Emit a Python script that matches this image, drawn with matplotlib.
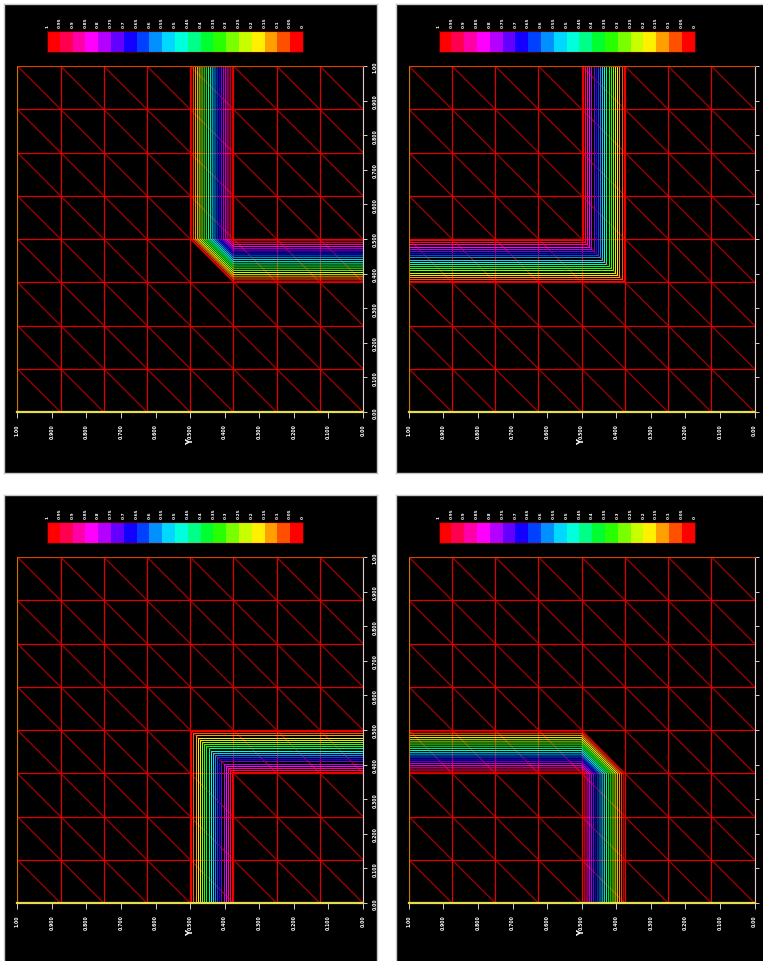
import numpy as np
import matplotlib
matplotlib.use("Agg")
import matplotlib.pyplot as plt
import matplotlib.tri as mtri
from matplotlib.colors import ListedColormap, BoundaryNorm
from matplotlib.cm import ScalarMappable
from matplotlib.collections import LineCollection

W, H = 763, 962

# mesh nodes: horizontal axis is Y (drawn 1 -> 0), vertical axis is X
y_nodes = [0.0, 0.125, 0.25, 0.375, 0.5, 0.625, 0.75, 0.875, 1.0]
x_nodes = [0.0, 0.125, 0.25, 0.375, 0.5, 0.625, 0.75, 0.875, 1.0]

# block of nodes where the field is 1 (0 elsewhere), one per panel
hot_tl = {"y": (0.0, 0.375), "x": (0.5, 1.0)}
hot_tr = {"y": (0.5, 1.0), "x": (0.5, 1.0)}
hot_bl = {"y": (0.0, 0.375), "x": (0.0, 0.375)}
hot_br = {"y": (0.5, 1.0), "x": (0.0, 0.375)}

contour_levels = [0.025, 0.075, 0.125, 0.175, 0.225, 0.275, 0.325, 0.375, 0.425, 0.475,
                  0.525, 0.575, 0.625, 0.675, 0.725, 0.775, 0.825, 0.875, 0.925, 0.975]
cbar_bounds = [0.0, 0.05, 0.1, 0.15, 0.2, 0.25, 0.3, 0.35, 0.4, 0.45, 0.5,
               0.55, 0.6, 0.65, 0.7, 0.75, 0.8, 0.85, 0.9, 0.95, 1.0]
cbar_labels = ["0", "0.05", "0.1", "0.15", "0.2", "0.25", "0.3", "0.35", "0.4", "0.45", "0.5",
               "0.55", "0.6", "0.65", "0.7", "0.75", "0.8", "0.85", "0.9", "0.95", "1"]
# colour of each band, value 0 -> 1
band_colors = ["#ff0000", "#ff5000", "#ffa000", "#fff000", "#c8ff00", "#78ff00", "#28ff00",
               "#00ff30", "#00ff88", "#00ffdc", "#00d8ff", "#0090ff", "#0040ff", "#1400ff",
               "#6400ff", "#b400ff", "#ff00ff", "#ff00a8", "#ff0050", "#ff0000"]

tick_vals = [0.0, 0.1, 0.2, 0.3, 0.4, 0.5, 0.6, 0.7, 0.8, 0.9, 1.0]
tick_labels = ["0.00", "0.100", "0.200", "0.300", "0.400", "0.500",
               "0.600", "0.700", "0.800", "0.900", "1.00"]

# panel offset (px), field block, whether the right-hand labels are inside the picture
panels = [(0, 0, hot_tl, True), (391.5, 0, hot_tr, False),
          (0, 491, hot_bl, True), (391.5, 491, hot_br, False)]


def frac(x, y, w, h):
    return [x / W, 1 - (y + h) / H, w / W, h / H]


# triangulation of the structured mesh, diagonals from (Y+h, X+h) to (Y, X)
YY, XX = np.meshgrid(y_nodes, x_nodes, indexing="ij")
n = len(x_nodes)
tris = []
for i in range(len(y_nodes) - 1):
    for j in range(n - 1):
        a, b, c, d = i * n + j, i * n + j + 1, (i + 1) * n + j, (i + 1) * n + j + 1
        tris.append([a, d, c])
        tris.append([a, b, d])
triang = mtri.Triangulation(YY.ravel(), XX.ravel(), tris)
px, py = triang.x, triang.y
grid_segs, diag_segs = [], []
for e0, e1 in triang.edges:
    seg = [(px[e0], py[e0]), (px[e1], py[e1])]
    if px[e0] != px[e1] and py[e0] != py[e1]:
        diag_segs.append(seg)
    else:
        grid_segs.append(seg)

cmap = ListedColormap(band_colors)
norm = BoundaryNorm(cbar_bounds, cmap.N)
line_colors = [band_colors[int(lv / 0.05)] for lv in contour_levels]

fig = plt.figure(figsize=(W / 100, H / 100), dpi=100)
fig.patch.set_facecolor("white")
small = dict(family="DejaVu Sans", weight="bold")

for ox, oy, hot, show_right in panels:
    bg = fig.add_axes(frac(ox + 4, oy + 5, 373, 469), zorder=0)
    bg.set_facecolor("black")
    bg.set_xticks([])
    bg.set_yticks([])
    for sp in bg.spines.values():
        sp.set_color("#c8c8c8")
        sp.set_linewidth(1)

    ax = fig.add_axes(frac(ox + 17.3, oy + 67, 345.7, 346), zorder=2)
    ax.set_facecolor("black")
    ax.add_collection(LineCollection(diag_segs, colors="#a80000", linewidths=0.9, zorder=1))
    ax.add_collection(LineCollection(grid_segs, colors="#e00000", linewidths=0.9, zorder=1))

    z = ((YY >= hot["y"][0]) & (YY <= hot["y"][1]) &
         (XX >= hot["x"][0]) & (XX <= hot["x"][1])).astype(float).ravel()
    ax.tricontour(triang, z, levels=contour_levels, colors=line_colors, linewidths=0.75, zorder=2)

    ax.set_xlim(1, 0)
    ax.set_ylim(0, 1)
    ax.spines["left"].set_color("#c07800")
    ax.spines["top"].set_color("#c84800")
    ax.spines["bottom"].set_color("#e8dc50")
    ax.spines["bottom"].set_linewidth(1.6)
    ax.spines["right"].set_color("#d0d0d0")

    ax.set_xticks(tick_vals)
    ax.set_xticklabels(tick_labels, rotation=90, color="white", fontsize=3.3, **small)
    ax.yaxis.tick_right()
    ax.set_yticks(tick_vals)
    ax.set_yticklabels(tick_labels, rotation=90, color="white", fontsize=3.3, va="center", **small)
    ax.tick_params(axis="x", direction="out", length=4, width=0.7, color="#d0d0d0", pad=4)
    ax.tick_params(axis="y", direction="out", length=3, width=0.7, color="#d0d0d0", pad=4,
                   labelright=show_right)
    ax.set_xlabel("Y", rotation=90, color="white", fontsize=6, weight="bold", va="center")
    ax.xaxis.set_label_coords(0.5, -0.085)

    cax = fig.add_axes(frac(ox + 47, oy + 32, 256, 21), zorder=2)
    cb = fig.colorbar(ScalarMappable(norm=norm, cmap=cmap), cax=cax, orientation="horizontal")
    cax.invert_xaxis()
    cax.xaxis.set_ticks_position("top")
    cb.set_ticks(cbar_bounds)
    cb.set_ticklabels(cbar_labels)
    cax.tick_params(axis="x", length=0, pad=3, labelsize=3.1, labelcolor="white", labelrotation=90)
    for lab in cax.get_xticklabels():
        lab.set_fontweight("bold")
    cb.outline.set_edgecolor("#500000")
    cb.outline.set_linewidth(0.8)

fig.savefig("out.png", dpi=100, facecolor="white")
